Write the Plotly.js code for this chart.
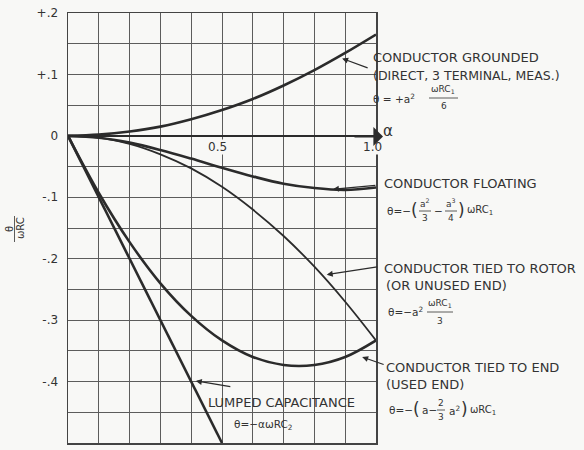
<!DOCTYPE html>
<html>
<head>
<meta charset="utf-8">
<script src="https://cdn.plot.ly/plotly-3.0.1.min.js"></script>
<style>html,body{margin:0;padding:0;background:#f8f8f6;}#chart{width:584px;height:450px;}</style>
</head>
<body>
<div id="chart"></div>
<script>
// ---- data ----
const alpha = [0, 0.1, 0.2, 0.3, 0.4, 0.5, 0.6, 0.7, 0.8, 0.9, 1.0];
const grounded = [0, 0.002, 0.007, 0.015, 0.027, 0.042, 0.060, 0.082, 0.107, 0.135, 0.165];
const floating = [0, -0.003, -0.011, -0.023, -0.037, -0.052, -0.066, -0.078, -0.085, -0.088, -0.084];
const tiedRotor = [0, -0.003, -0.013, -0.030, -0.053, -0.083, -0.120, -0.163, -0.213, -0.270, -0.333];
const tiedEnd = [0, -0.093, -0.173, -0.240, -0.293, -0.333, -0.360, -0.373, -0.373, -0.360, -0.333];
const lumpedAlpha = [0, 0.5];
const lumped = [0, -0.5];
const yTickVals = [-0.5, -0.45, -0.4, -0.35, -0.3, -0.25, -0.2, -0.15, -0.1, -0.05, 0, 0.05, 0.1, 0.15, 0.2];
const yTickText = ['-.5', '', '-.4', '', '-.3', '', '-.2', '', '-.1', '', '0', '', '+.1', '', '+.2'];
const xTickVals = [0, 0.1, 0.2, 0.3, 0.4, 0.5, 0.6, 0.7, 0.8, 0.9, 1.0];
const xLabels = ['0.5', '1.0'];
const xLabelVals = [0.485, 0.99];

// ---- layout helpers ----
const L = 68, T = 13, W = 308, H = 430;
const BG = '#f8f8f6';
const PX = x => (x - L) / W;
const PY = y => (T + H - y) / H;
const INK = '#2b2b2b', TXT = '#333333';
const FONT = 'DejaVu Sans, sans-serif';

const annotations = [];
const shapes = [];
function txt(x, y, text, size, anchor) {
  annotations.push({xref: 'paper', yref: 'paper', x: PX(x), y: PY(y), text: text,
    showarrow: false, xanchor: anchor || 'left', yanchor: 'middle', borderpad: 0,
    font: {family: FONT, size: size || 13, color: TXT}});
}
function bar(x0, x1, y) {
  shapes.push({type: 'line', xref: 'paper', yref: 'paper', x0: PX(x0), x1: PX(x1), y0: PY(y), y1: PY(y),
    line: {color: TXT, width: 0.8}});
}
function arrow(x, y, ax, ay) {
  annotations.push({xref: 'x', yref: 'y', x: x, y: y, ax: ax, ay: ay, text: '',
    showarrow: true, arrowhead: 2, arrowsize: 1, arrowwidth: 1.2, arrowcolor: INK});
}

// labels
txt(372, 57, 'CONDUCTOR GROUNDED');
txt(372, 75, '(DIRECT, 3 TERMINAL, MEAS.)', 12.5);
txt(372, 98, 'θ = +a<sup>2</sup>', 10.5);
txt(443, 90, 'ωRC<sub>1</sub>', 9, 'center'); bar(429, 458, 98); txt(444, 106, '6', 9, 'center');

txt(383, 183, 'CONDUCTOR FLOATING');
txt(386, 211, 'θ=−', 10.5);
txt(414, 210, '(', 17, 'center');
txt(425, 203, 'a<sup>2</sup>', 9, 'center'); bar(419, 431, 211); txt(425, 218, '3', 9, 'center');
txt(438, 211, '−', 10.5, 'center');
txt(451, 203, 'a<sup>3</sup>', 9, 'center'); bar(445, 457, 211); txt(451, 218, '4', 9, 'center');
txt(461, 210, ')', 17, 'center');
txt(466, 211, 'ωRC<sub>1</sub>', 10);

txt(383, 268, 'CONDUCTOR TIED TO ROTOR');
txt(385, 285, '(OR UNUSED END)');
txt(387, 311, 'θ=−a<sup>2</sup>', 10.5);
txt(440, 303, 'ωRC<sub>1</sub>', 9, 'center'); bar(427, 453, 312); txt(440, 321, '3', 9, 'center');

txt(385, 367, 'CONDUCTOR TIED TO END');
txt(385, 384, '(USED END)');
txt(388, 410, 'θ=−', 10.5);
txt(416, 409, '(', 17, 'center');
txt(421, 410, 'a−', 10.5);
txt(441, 403, '2', 9, 'center'); bar(437, 445, 410); txt(441, 417, '3', 9, 'center');
txt(448, 410, 'a<sup>2</sup>', 10.5);
txt(464, 409, ')', 17, 'center');
txt(469, 410, 'ωRC<sub>1</sub>', 10);

txt(207, 402, 'LUMPED CAPACITANCE');
txt(233, 425, 'θ=−αωRC<sub>2</sub>', 10.5);

// x labels on the zero line
xLabels.forEach((t, i) => annotations.push({xref: 'x', yref: 'y', x: xLabelVals[i], y: 0, yshift: -11,
  xanchor: 'center', yanchor: 'middle', text: t, showarrow: false, bgcolor: BG, borderpad: 0,
  font: {family: FONT, size: 12, color: TXT}}));
txt(388, 131, 'α', 15, 'center');
// axis arrow (continuation of the zero line past the frame)
annotations.push({xref: 'paper', yref: 'paper', x: PX(383), y: PY(136.5), ax: -30, ay: 0, text: '',
  showarrow: true, arrowhead: 1, arrowsize: 1.6, arrowwidth: 2, arrowcolor: INK});

// leader arrows (tip on curve, offset to label)
arrow(0.89, 0.126, 27, 10);
arrow(0.86, -0.087, 44, -4);
arrow(0.84, -0.226, 52, -8);
arrow(0.955, -0.36, 23, 8);
arrow(0.415, -0.399, 36, 6);

// y title as a rotated fraction
annotations.push({xref: 'paper', yref: 'paper', x: PX(9), y: PY(229), text: 'θ', textangle: -90, showarrow: false,
  xanchor: 'center', yanchor: 'middle', font: {family: FONT, size: 10, color: TXT}});
annotations.push({xref: 'paper', yref: 'paper', x: PX(20), y: PY(228), text: 'ωRC', textangle: -90, showarrow: false,
  xanchor: 'center', yanchor: 'middle', font: {family: FONT, size: 10, color: TXT}});
shapes.push({type: 'line', xref: 'paper', yref: 'paper', x0: PX(14.5), x1: PX(14.5), y0: PY(216), y1: PY(242),
  line: {color: TXT, width: 0.8}});

const lineTrace = (x, y, w) => ({x: x, y: y, type: 'scatter', mode: 'lines',
  line: {color: INK, width: w, shape: 'spline', smoothing: 1}, hoverinfo: 'skip', showlegend: false});

const data = [
  lineTrace(alpha, grounded, 2.6),
  lineTrace(alpha, floating, 2.6),
  lineTrace(alpha, tiedRotor, 1.8),
  lineTrace(alpha, tiedEnd, 2.6),
  lineTrace(lumpedAlpha, lumped, 2.6)
];

const layout = {
  width: 584, height: 450,
  margin: {l: L, r: 584 - L - W, t: T, b: 450 - T - H},
  paper_bgcolor: BG, plot_bgcolor: BG,
  showlegend: false,
  xaxis: {range: [0, 1.0], tickvals: xTickVals, showticklabels: false, ticks: '',
    showgrid: true, gridcolor: '#5c5c5c', gridwidth: 1, zeroline: false,
    showline: true, mirror: true, linecolor: '#444', linewidth: 1.5, fixedrange: true},
  yaxis: {range: [-0.5, 0.2], tickvals: yTickVals, ticktext: yTickText, ticks: '',
    tickfont: {family: FONT, size: 12, color: TXT}, ticklabelstandoff: 6,
    showgrid: true, gridcolor: '#5c5c5c', gridwidth: 1,
    zeroline: true, zerolinecolor: INK, zerolinewidth: 2.6,
    showline: true, mirror: true, linecolor: '#444', linewidth: 1.5, fixedrange: true},
  annotations: annotations,
  shapes: shapes
};

Plotly.newPlot('chart', data, layout, {staticPlot: true, displayModeBar: false});
</script>
</body>
</html>
